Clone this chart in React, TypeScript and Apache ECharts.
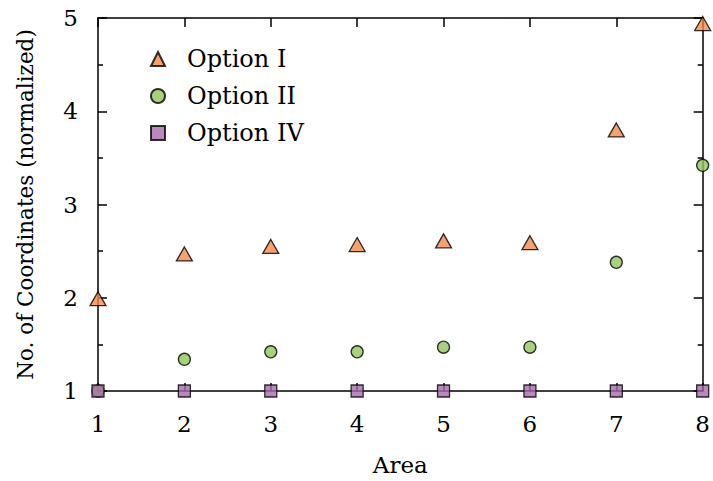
import React, { useEffect, useRef } from "react";
import * as echarts from "echarts";

const areas = [1, 2, 3, 4, 5, 6, 7, 8];
const optionI = [1.99, 2.47, 2.55, 2.57, 2.61, 2.59, 3.8, 4.94];
const optionII = [1.0, 1.34, 1.42, 1.42, 1.47, 1.47, 2.38, 3.42];
const optionIV = [1, 1, 1, 1, 1, 1, 1, 1];
const seriesNames = ["Option I", "Option II", "Option IV"];
const colors = ["#F4894E", "#92C55E", "#A86BAE"];

const FONT = "DejaVu Serif";

export default function App() {
  const ref = useRef<HTMLDivElement>(null);
  useEffect(() => {
    if (!ref.current) return;
    const chart = echarts.init(ref.current, null, { renderer: "svg" });
    const pts = (ys: number[]) => areas.map((x, i) => [x, ys[i]]);
    const axisLineStyle = { color: "#000", width: 1.5 };
    const common = {
      type: "value" as const,
      min: 1,
      splitLine: { show: false },
      axisLine: { show: true, lineStyle: axisLineStyle },
    };
    chart.setOption({
      animation: false,
      backgroundColor: "#fff",
      grid: { left: 98, right: 9, top: 18, bottom: 90, containLabel: false },
      legend: {
        orient: "vertical",
        left: 145,
        top: 42,
        itemWidth: 14,
        itemHeight: 14,
        itemGap: 13,
        data: seriesNames,
        textStyle: { fontFamily: FONT, fontSize: 24, color: "#000", padding: [0, 0, 0, 17] },
      },
      xAxis: [
        {
          ...common,
          max: 8,
          interval: 1,
          position: "bottom",
          name: "Area",
          nameLocation: "middle",
          nameGap: 62,
          nameTextStyle: { fontFamily: FONT, fontSize: 23, color: "#000" },
          axisTick: { show: true, inside: true, length: 8, lineStyle: axisLineStyle },
          axisLabel: { fontFamily: FONT, fontSize: 23, color: "#000", margin: 21 },
        },
        {
          ...common,
          max: 8,
          interval: 1,
          position: "top",
          axisTick: { show: true, inside: true, length: 9, lineStyle: axisLineStyle },
          axisLabel: { show: false },
        },
      ],
      yAxis: [
        {
          ...common,
          max: 5,
          interval: 1,
          position: "left",
          name: "No. of Coordinates (normalized)",
          nameLocation: "middle",
          nameGap: 62,
          nameTextStyle: { fontFamily: FONT, fontSize: 21.5, color: "#000" },
          axisTick: { show: true, inside: true, length: 9, lineStyle: axisLineStyle },
          minorTick: { show: true, splitNumber: 2, length: 5, lineStyle: { color: "#000", width: 1.5 } },
          axisLabel: { fontFamily: FONT, fontSize: 23, color: "#000", margin: 20 },
        },
        {
          ...common,
          max: 5,
          interval: 1,
          position: "right",
          axisTick: { show: true, inside: true, length: 9, lineStyle: axisLineStyle },
          minorTick: { show: true, splitNumber: 2, length: 5, lineStyle: { color: "#000", width: 1.5 } },
          axisLabel: { show: false },
        },
      ],
      series: [
        {
          name: seriesNames[0],
          type: "scatter",
          data: pts(optionI),
          symbol: "triangle",
          symbolSize: [16, 14],
          clip: false,
          z: 3,
          itemStyle: { color: colors[0], borderColor: "#000", borderWidth: 1.3 },
        },
        {
          name: seriesNames[1],
          type: "scatter",
          data: pts(optionII),
          symbol: "circle",
          symbolSize: 12,
          clip: false,
          z: 3,
          itemStyle: { color: colors[1], borderColor: "#000", borderWidth: 1.3 },
        },
        {
          name: seriesNames[2],
          type: "scatter",
          data: pts(optionIV),
          symbol: "rect",
          symbolSize: 12,
          clip: false,
          z: 4,
          itemStyle: { color: colors[2], borderColor: "#000", borderWidth: 1.3 },
        },
      ],
    });
    return () => chart.dispose();
  }, []);
  return <div ref={ref} style={{ width: 713, height: 481, position: "absolute", left: 0, top: 0 }} />;
}
